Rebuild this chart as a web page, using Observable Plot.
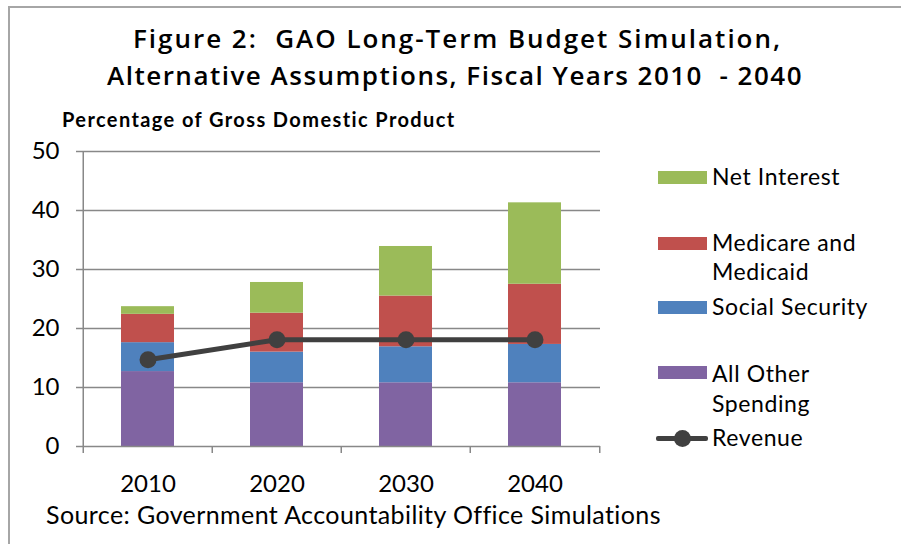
<!DOCTYPE html>
<html>
<head>
<meta charset="utf-8">
<script src="https://cdn.jsdelivr.net/npm/d3@7"></script>
<script src="https://cdn.jsdelivr.net/npm/@observablehq/plot@0.6"></script>
<style>
  body { margin: 0; background: #fff; }
  #wrap { position: relative; width: 901px; height: 544px; overflow: hidden; background: #fff; }
  #chart { position: absolute; left: 0; top: 0; }
  #frame { position: absolute; left: 8px; top: 6px; width: 2000px; height: 2000px;
           border-left: 2px solid #a6a6a6; border-top: 2px solid #a6a6a6; }
  .t { position: absolute; white-space: nowrap; color: #000; font-family: Lato, sans-serif; }
  .title { font-family: "Open Sans", Lato, sans-serif; font-weight: 600; font-size: 26px; line-height: 26px; }
  #subtitle { font-weight: 700; font-size: 20px; line-height: 20px; }
  #source { font-size: 25px; line-height: 25px; }
  .leg { position: absolute; font-family: Lato, sans-serif; font-size: 23px; line-height: 29px; letter-spacing: 0.6px; color: #000; white-space: nowrap; }
  .sw { position: absolute; width: 49px; height: 13px; }
</style>
</head>
<body>
<div id="wrap">
  <div id="chart"></div>
  <div id="frame"></div>
  <div class="t title" id="title1">Figure 2:&nbsp; GAO Long-Term Budget Simulation,</div>
  <div class="t title" id="title2">Alternative Assumptions, Fiscal Years 2010 &nbsp;- 2040</div>
  <div class="t" id="subtitle">Percentage of Gross Domestic Product</div>
  <div class="t" id="source">Source: Government Accountability Office Simulations</div>
  <div id="legend"></div>
</div>
<script>
// ---- data ----
const years = ["2010", "2020", "2030", "2040"];
const allOther = [12.7, 10.8, 10.8, 10.8];
const socialSecurity = [4.9, 5.2, 6.1, 6.5];
const medicare = [4.8, 6.6, 8.6, 10.2];
const netInterest = [1.3, 5.2, 8.4, 13.8];
const revenue = [14.7, 18.1, 18.1, 18.1];
const seriesNames = ["All Other Spending", "Social Security", "Medicare and Medicaid", "Net Interest"];
const seriesColors = ["#8064A2", "#4F81BD", "#C0504D", "#9BBB59"];
const yTicks = [0, 10, 20, 30, 40, 50];

const seriesValues = [allOther, socialSecurity, medicare, netInterest];
const stacked = [];
seriesNames.forEach((s, si) => years.forEach((y, i) => stacked.push({year: y, series: s, value: seriesValues[si][i]})));
const rev = years.map((y, i) => ({year: y, value: revenue[i]}));

const W = 901, H = 544, mL = 82, mR = 301, mT = 151, mB = 98;
const step = (W - mL - mR) / years.length;
const grid = "#888888";

const chart = Plot.plot({
  width: W, height: H,
  marginLeft: mL, marginRight: mR, marginTop: mT, marginBottom: mB,
  style: {background: "transparent", fontFamily: "Lato, sans-serif", color: "#000"},
  x: {domain: years, paddingInner: 0.59, paddingOuter: 0.295, label: null},
  y: {domain: [0, 50], label: null},
  color: {domain: seriesNames, range: seriesColors},
  marks: [
    Plot.gridY(yTicks.slice(1), {stroke: grid, strokeOpacity: 1, strokeWidth: 1.5}),
    Plot.axisY(yTicks, {tickSize: 6, tickPadding: 17, stroke: grid, strokeWidth: 1.5, fill: "#000", fontSize: 24, label: null}),
    Plot.barY(stacked, {x: "year", y: "value", fill: "series", order: seriesNames}),
    Plot.ruleY([0], {stroke: grid, strokeWidth: 1.5}),
    Plot.ruleX(years, {x: d => d, y1: 0, y2: 50, dx: -step / 2, stroke: grid, strokeWidth: 1.5, filter: (d, i) => i === 0}),
    Plot.ruleX(years, {x: d => d, y1: 0, y2: -1.2, dx: -step / 2, stroke: grid, strokeWidth: 1.5}),
    Plot.ruleX(years.slice(-1), {x: d => d, y1: 0, y2: -1.2, dx: step / 2, stroke: grid, strokeWidth: 1.5}),
    Plot.axisX({tickSize: 0, tickPadding: 28, fontSize: 24, fill: "#000", label: null}),
    Plot.line(rev, {x: "year", y: "value", stroke: "#404040", strokeWidth: 5}),
    Plot.dot(rev, {x: "year", y: "value", r: 8.5, fill: "#404040", stroke: "none"})
  ]
});
document.getElementById("chart").appendChild(chart);

// ---- fit text blocks to their extents ----
function fit(id, left, top, width) {
  const el = document.getElementById(id);
  el.style.left = left + "px";
  el.style.top = top + "px";
  const w = el.getBoundingClientRect().width;
  const n = el.textContent.length;
  el.style.letterSpacing = ((width - w) / n) + "px";
}
fit("title1", 133, 25, 649);
fit("title2", 107, 62, 696);
fit("subtitle", 62, 109, 394);
fit("source", 46, 502, 614);

// ---- legend ----
const legendItems = [
  {label: "Net Interest", color: seriesColors[3], sy: 177, ty: 161.5},
  {label: "Medicare and<br>Medicaid", color: seriesColors[2], sy: 243.5, ty: 227.6},
  {label: "Social Security", color: seriesColors[1], sy: 307.5, ty: 292.3},
  {label: "All Other<br>Spending", color: seriesColors[0], sy: 372, ty: 357.6, lh: 30},
  {label: "Revenue", color: "#404040", sy: 438.3, ty: 422.6, line: true}
];
const legend = document.getElementById("legend");
legendItems.forEach(it => {
  if (it.line) {
    const l = document.createElement("div");
    l.style.cssText = `position:absolute;left:656px;top:${it.sy - 2.5}px;width:52px;height:5px;background:${it.color};border-radius:2px`;
    legend.appendChild(l);
    const c = document.createElement("div");
    c.style.cssText = `position:absolute;left:${682 - 8.5}px;top:${it.sy - 8.5}px;width:17px;height:17px;border-radius:50%;background:${it.color}`;
    legend.appendChild(c);
  } else {
    const s = document.createElement("div");
    s.className = "sw";
    s.style.cssText += `left:658px;top:${it.sy - 6.5}px;background:${it.color}`;
    legend.appendChild(s);
  }
  const t = document.createElement("div");
  t.className = "leg";
  t.style.left = "712px";
  t.style.top = it.ty + "px";
  if (it.lh) t.style.lineHeight = it.lh + "px";
  t.innerHTML = it.label;
  legend.appendChild(t);
});
</script>
</body>
</html>
